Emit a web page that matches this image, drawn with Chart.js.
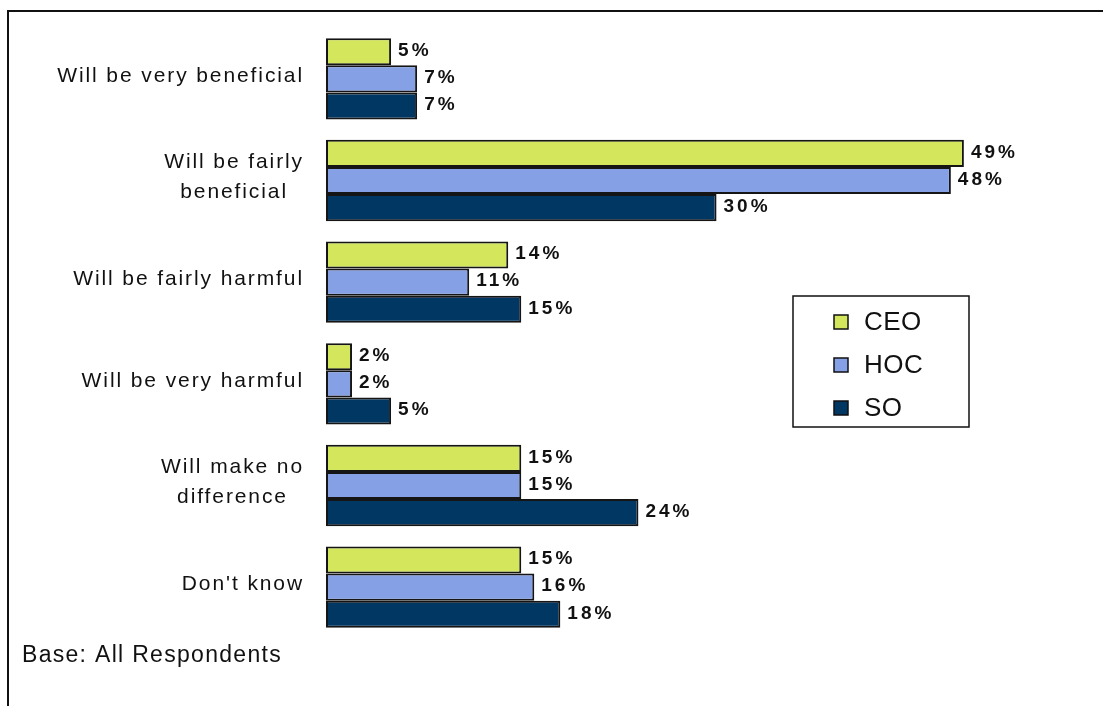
<!DOCTYPE html>
<html>
<head>
<meta charset="utf-8">
<title>Impact survey</title>
<script src="https://cdn.jsdelivr.net/npm/chart.js@4/dist/chart.umd.min.js"></script>
<style>
  html, body { margin: 0; padding: 0; background: #fff; }
  canvas { display: block; }
</style>
</head>
<body>
<canvas id="myChart" width="1103" height="706"></canvas>
<script>
// answers, top to bottom
const categories = [
	['Will be very beneficial'],
	['Will be fairly', 'beneficial'],
	['Will be fairly harmful'],
	['Will be very harmful'],
	['Will make no', 'difference'],
	["Don't know"]
];

const ceo = [5, 49, 14, 2, 15, 15];
const hoc = [7, 48, 11, 2, 15, 16];
const so = [7, 30, 15, 5, 24, 18];

const seriesNames = ['CEO', 'HOC', 'SO'];
const seriesColors = ['#d4e65b', '#85a0e5', '#003763'];
const baseNote = 'Base: All Respondents';

const FONT = '"Liberation Sans", Arial, sans-serif';

// outer frame, category labels, value labels, legend box and base note
const decorations = {
	id: 'decorations',
	beforeDraw(chart) {
		const ctx = chart.ctx;
		ctx.save();
		ctx.fillStyle = '#fff';
		ctx.fillRect(0, 0, chart.width, chart.height);
		ctx.strokeStyle = '#111';
		ctx.lineWidth = 2;
		ctx.strokeRect(8, 11, chart.width + 20, chart.height + 20);
		ctx.restore();
	},
	afterDatasetsDraw(chart) {
		const ctx = chart.ctx;
		const yScale = chart.scales.y;
		ctx.save();

		// category labels: block right-aligned, lines centred within it
		ctx.font = '21px ' + FONT;
		ctx.letterSpacing = '1.9px';
		ctx.fillStyle = '#111';
		ctx.textBaseline = 'middle';
		ctx.textAlign = 'center';
		const rightEdge = 304;
		categories.forEach((lines, i) => {
			const y = yScale.getPixelForValue(i) - 3;
			const widest = Math.max(...lines.map(l => ctx.measureText(l).width));
			const cx = rightEdge - widest / 2;
			const lh = 30;
			lines.forEach((line, j) => {
				ctx.fillText(line, cx, y + (j - (lines.length - 1) / 2) * lh);
			});
		});

		// value labels next to each bar end
		ctx.font = 'bold 19px ' + FONT;
		ctx.letterSpacing = '3px';
		ctx.textAlign = 'left';
		chart.data.datasets.forEach((ds, di) => {
			const meta = chart.getDatasetMeta(di);
			meta.data.forEach((bar, i) => {
				ctx.fillText(ds.data[i] + '%', bar.x + 7, bar.y - 1);
			});
		});

		// legend
		const lx = 793, ly = 296, lw = 176, lh = 131;
		ctx.lineWidth = 1.5;
		ctx.strokeStyle = '#111';
		ctx.strokeRect(lx, ly, lw, lh);
		ctx.font = '26px ' + FONT;
		ctx.letterSpacing = '0.5px';
		chart.data.datasets.forEach((ds, di) => {
			const cy = ly + 26 + di * 43;
			ctx.fillStyle = ds.backgroundColor;
			ctx.fillRect(834, cy - 7, 14, 14);
			ctx.strokeRect(834, cy - 7, 14, 14);
			ctx.fillStyle = '#111';
			ctx.fillText(ds.label, 864, cy + 1);
		});

		// base note
		ctx.font = '23px ' + FONT;
		ctx.letterSpacing = '1.3px';
		ctx.fillText(baseNote, 22, 656);
		ctx.restore();
	}
};

const ctx = document.getElementById('myChart');

const myChart = new Chart(ctx, {
	type: 'bar',
	data: {
		labels: categories,
		datasets: [ceo, hoc, so].map((values, i) => ({
			label: seriesNames[i],
			data: values,
			backgroundColor: seriesColors[i],
			borderColor: '#151515',
			borderWidth: 2,
			borderSkipped: false,
			categoryPercentage: 0.8,
			barPercentage: 1.0
		}))
	},
	options: {
		indexAxis: 'y',
		responsive: false,
		animation: false,
		layout: {
			padding: { left: 326, right: 61, top: 28, bottom: 68 }
		},
		plugins: {
			legend: { display: false },
			tooltip: { enabled: false }
		},
		scales: {
			x: { display: false, min: 0, max: 55 },
			y: { display: false }
		}
	},
	plugins: [decorations]
});
</script>
</body>
</html>
